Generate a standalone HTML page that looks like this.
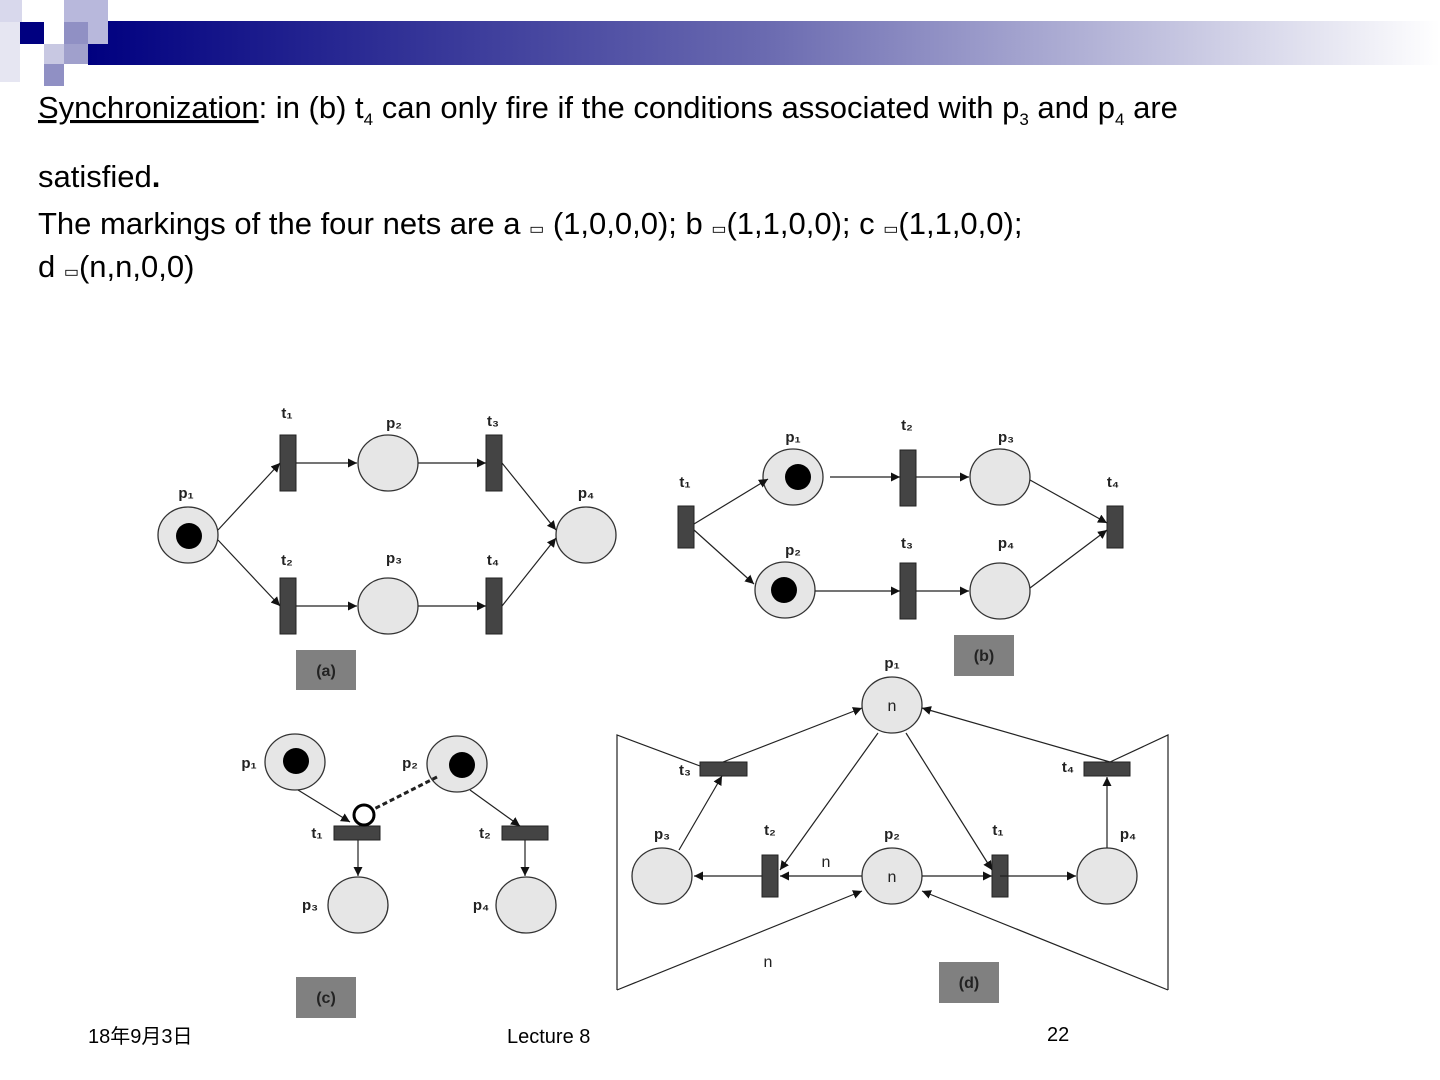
<!DOCTYPE html>
<html><head><meta charset="utf-8"><style>
html,body{margin:0;padding:0;background:#fff;}
svg{display:block;}
</style></head><body>
<svg width="1440" height="1080" viewBox="0 0 1440 1080" xmlns="http://www.w3.org/2000/svg" font-family="Liberation Sans, Noto Sans CJK JP, sans-serif">
<defs>
<linearGradient id="g" x1="0" x2="1" y1="0" y2="0">
<stop offset="0" stop-color="#000080"/><stop offset="0.5" stop-color="#6a6ab0"/><stop offset="1" stop-color="#ffffff"/></linearGradient>
<marker id="a" viewBox="0 0 10 10" refX="10" refY="5" markerWidth="9" markerHeight="9" markerUnits="userSpaceOnUse" orient="auto"><path d="M0,0L10,5L0,10z" fill="#111"/></marker>
</defs>
<rect x="88" y="21" width="1352" height="44" fill="url(#g)"/>
<rect x="0" y="0" width="22" height="22" fill="#d8d8ec"/>
<rect x="0" y="22" width="20" height="60" fill="#e6e6f2"/>
<rect x="20" y="22" width="24" height="22" fill="#000080"/>
<rect x="64" y="0" width="44" height="44" fill="#b8b8dc"/>
<rect x="64" y="22" width="24" height="22" fill="#9090c4"/>
<rect x="44" y="44" width="20" height="20" fill="#c8c8e2"/>
<rect x="64" y="44" width="24" height="20" fill="#a0a0cc"/>
<rect x="44" y="64" width="20" height="22" fill="#9090c4"/>
<g font-size="31" fill="#000">
<text x="38" y="118"><tspan text-decoration="underline">Synchronization</tspan>: in (b)  t<tspan font-size="17" dy="7">4</tspan><tspan dy="-7"> can only fire if the conditions associated with p</tspan><tspan font-size="17" dy="7">3</tspan><tspan dy="-7"> and p</tspan><tspan font-size="17" dy="7">4</tspan><tspan dy="-7"> are</tspan></text>
<text x="38" y="187">satisfied<tspan font-weight="bold">.</tspan></text>
<text x="38" y="234">The markings of the four nets are a <tspan font-size="16">▭</tspan> (1,0,0,0); b <tspan font-size="16">▭</tspan>(1,1,0,0); c <tspan font-size="16">▭</tspan>(1,1,0,0);</text>
<text x="38" y="277">d <tspan font-size="16">▭</tspan>(n,n,0,0)</text>
</g>
<g stroke="#333" stroke-width="1.3" fill="#e6e6e6">
<!-- (a) -->
<ellipse cx="188" cy="535" rx="30" ry="28"/><ellipse cx="388" cy="463" rx="30" ry="28"/><ellipse cx="388" cy="606" rx="30" ry="28"/><ellipse cx="586" cy="535" rx="30" ry="28"/>
<!-- (b) -->
<ellipse cx="793" cy="477" rx="30" ry="28"/><ellipse cx="1000" cy="477" rx="30" ry="28"/><ellipse cx="785" cy="590" rx="30" ry="28"/><ellipse cx="1000" cy="591" rx="30" ry="28"/>
<!-- (c) -->
<ellipse cx="295" cy="762" rx="30" ry="28"/><ellipse cx="457" cy="764" rx="30" ry="28"/><ellipse cx="358" cy="905" rx="30" ry="28"/><ellipse cx="526" cy="905" rx="30" ry="28"/>
<!-- (d) -->
<ellipse cx="892" cy="705" rx="30" ry="28"/><ellipse cx="662" cy="876" rx="30" ry="28"/><ellipse cx="892" cy="876" rx="30" ry="28"/><ellipse cx="1107" cy="876" rx="30" ry="28"/>
</g>
<g fill="#000"><circle cx="189" cy="536" r="13"/><circle cx="798" cy="477" r="13"/><circle cx="784" cy="590" r="13"/><circle cx="296" cy="761" r="13"/><circle cx="462" cy="765" r="13"/></g>
<g fill="#444" stroke="#222" stroke-width="1">
<rect x="280" y="435" width="16" height="56"/><rect x="486" y="435" width="16" height="56"/><rect x="280" y="578" width="16" height="56"/><rect x="486" y="578" width="16" height="56"/>
<rect x="678" y="506" width="16" height="42"/><rect x="900" y="450" width="16" height="56"/><rect x="1107" y="506" width="16" height="42"/><rect x="900" y="563" width="16" height="56"/>
<rect x="334" y="826" width="46" height="14"/><rect x="502" y="826" width="46" height="14"/>
<rect x="700" y="762" width="47" height="14"/><rect x="1084" y="762" width="46" height="14"/><rect x="762" y="855" width="16" height="42"/><rect x="992" y="855" width="16" height="42"/>
</g>
<g stroke="#222" stroke-width="1.2" fill="none" marker-end="url(#a)">
<line x1="218" y1="530" x2="280" y2="463"/><line x1="218" y1="540" x2="280" y2="606"/>
<line x1="296" y1="463" x2="357" y2="463"/><line x1="418" y1="463" x2="486" y2="463"/>
<line x1="296" y1="606" x2="357" y2="606"/><line x1="418" y1="606" x2="486" y2="606"/>
<line x1="502" y1="463" x2="556" y2="530"/><line x1="502" y1="606" x2="556" y2="538"/>
<line x1="694" y1="524" x2="768" y2="479"/><line x1="694" y1="530" x2="754" y2="584"/>
<line x1="830" y1="477" x2="900" y2="477"/><line x1="916" y1="477" x2="969" y2="477"/>
<line x1="815" y1="591" x2="900" y2="591"/><line x1="916" y1="591" x2="969" y2="591"/>
<line x1="1030" y1="480" x2="1107" y2="523"/><line x1="1030" y1="588" x2="1107" y2="530"/>
<line x1="298" y1="790" x2="350" y2="822"/><line x1="470" y1="790" x2="520" y2="826"/>
<line x1="358" y1="840" x2="358" y2="876"/><line x1="525" y1="840" x2="525" y2="876"/>
<line x1="723" y1="762" x2="862" y2="708"/><line x1="1110" y1="762" x2="922" y2="708"/>
<line x1="679" y1="850" x2="722" y2="776"/><line x1="1107" y1="848" x2="1107" y2="777"/>
<line x1="878" y1="733" x2="780" y2="870"/><line x1="906" y1="733" x2="992" y2="870"/>
<line x1="862" y1="876" x2="780" y2="876"/><line x1="762" y1="876" x2="694" y2="876"/>
<line x1="922" y1="876" x2="992" y2="876"/><line x1="1000" y1="876" x2="1076" y2="876"/>
<line x1="617" y1="990" x2="862" y2="891"/><line x1="1168" y1="990" x2="922" y2="891"/>
</g>
<g stroke="#222" stroke-width="1.2" fill="none">
<polyline points="700,766 617,735 617,990"/><polyline points="1110,762 1168,735 1168,990"/>
<line x1="437" y1="777" x2="372" y2="810" stroke-dasharray="5,3" stroke-width="3"/>
</g>
<circle cx="364" cy="815" r="10" fill="#fff" stroke="#000" stroke-width="3"/>
<g font-size="15" font-weight="bold" fill="#222" text-anchor="middle">
<text x="287" y="418">t₁</text><text x="394" y="428">p₂</text><text x="493" y="426">t₃</text><text x="186" y="498">p₁</text><text x="586" y="498">p₄</text><text x="287" y="565">t₂</text><text x="394" y="563">p₃</text><text x="493" y="565">t₄</text>
<text x="793" y="442">p₁</text><text x="907" y="430">t₂</text><text x="1006" y="442">p₃</text><text x="685" y="487">t₁</text><text x="1113" y="487">t₄</text><text x="793" y="555">p₂</text><text x="907" y="548">t₃</text><text x="1006" y="548">p₄</text>
<text x="249" y="768">p₁</text><text x="410" y="768">p₂</text><text x="317" y="838">t₁</text><text x="485" y="838">t₂</text><text x="310" y="910">p₃</text><text x="481" y="910">p₄</text>
<text x="892" y="668">p₁</text><text x="685" y="775">t₃</text><text x="1068" y="772">t₄</text><text x="662" y="839">p₃</text><text x="770" y="835">t₂</text><text x="892" y="839">p₂</text><text x="998" y="835">t₁</text><text x="1128" y="839">p₄</text>
</g>
<g font-size="16" fill="#222" text-anchor="middle">
<text x="892" y="711">n</text><text x="892" y="882">n</text><text x="826" y="867">n</text><text x="768" y="967">n</text>
</g>
<g fill="#808080"><rect x="296" y="650" width="60" height="40"/><rect x="954" y="635" width="60" height="41"/><rect x="296" y="977" width="60" height="41"/><rect x="939" y="962" width="60" height="41"/></g>
<g font-size="16" font-weight="bold" fill="#222" text-anchor="middle">
<text x="326" y="676">(a)</text><text x="984" y="661">(b)</text><text x="326" y="1003">(c)</text><text x="969" y="988">(d)</text>
</g>
<g font-size="20" fill="#000">
<text x="88" y="1043">18年9月3日</text><text x="507" y="1043">Lecture 8</text><text x="1047" y="1041">22</text>
</g>
</svg>
</body></html>
